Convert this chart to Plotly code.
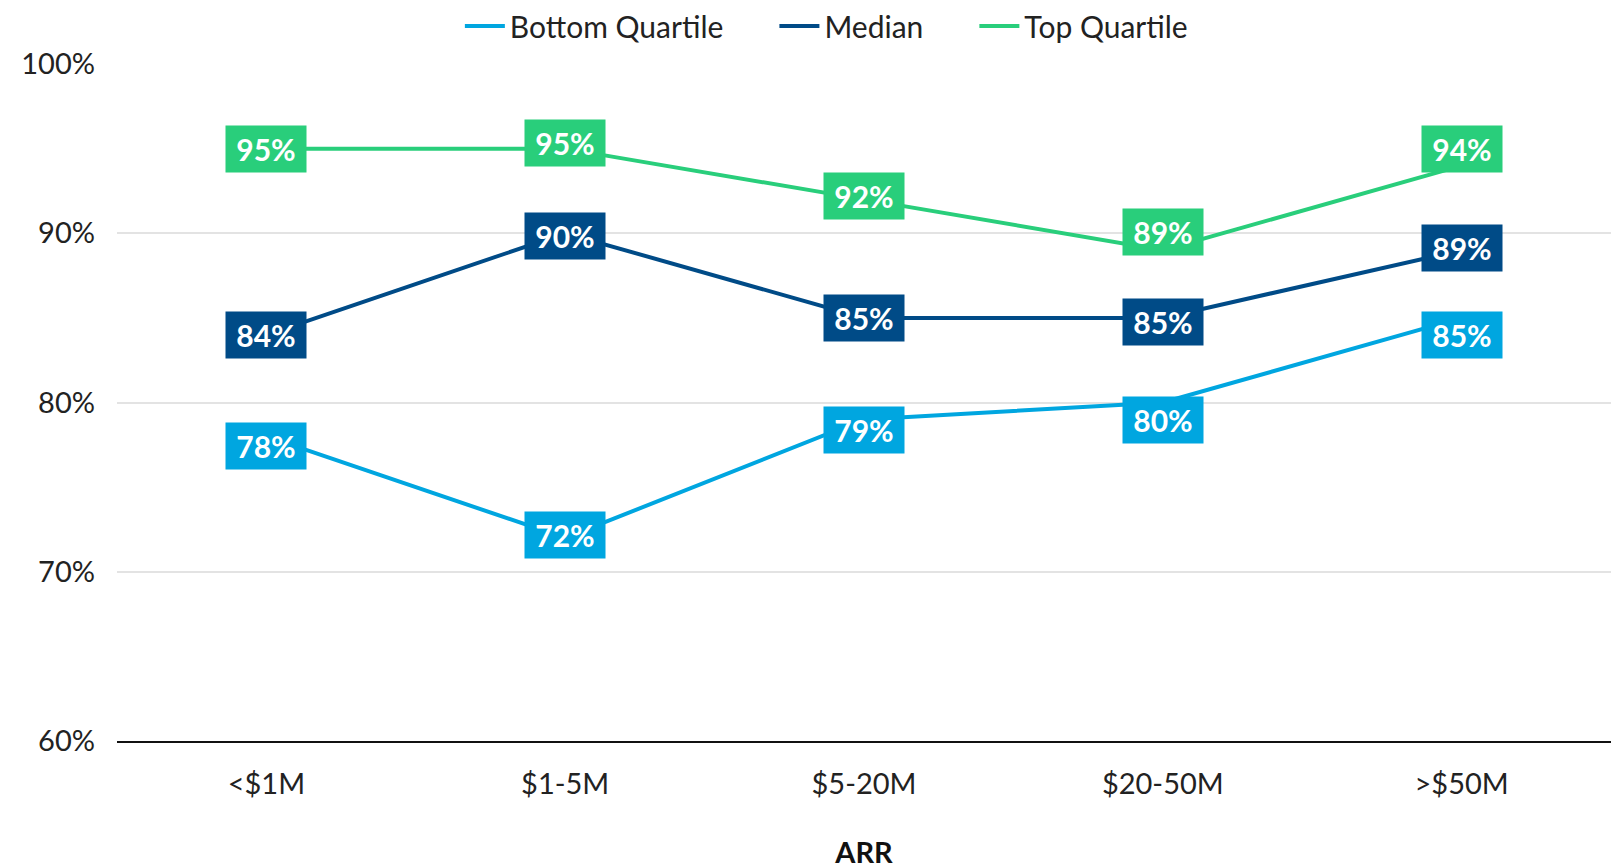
import plotly.graph_objects as go

categories = ["<$1M", "$1-5M", "$5-20M", "$20-50M", ">$50M"]
bottom_quartile = [78, 72, 79, 80, 85]
median = [84, 90, 85, 85, 89]
top_quartile = [95, 95, 92, 89, 94]
y_ticks = [60, 70, 80, 90, 100]
y_tick_labels = ["60%", "70%", "80%", "90%", "100%"]

# label box nudges (pixels, style only)
bottom_label_shift = [-10, 3, -11, -17, -17]
median_label_shift = [0, -3, 0, -4, 2]
top_label_shift = [0, 6, 3, 18, 17]

NB = "\u00a0"
series = [
    ("Bottom Quartile" + NB * 6, bottom_quartile, "#00A6E0", bottom_label_shift),
    ("Median" + NB * 6, median, "#004B87", median_label_shift),
    ("Top Quartile", top_quartile, "#29CE7B", top_label_shift),
]

FONT = "Lato, 'Noto Sans', sans-serif"
W, H = 1619, 867

fig = go.Figure()
annotations = []
for name, vals, color, shifts in series:
    fig.add_trace(go.Scatter(
        x=categories, y=vals, mode="lines", name=name,
        line=dict(color=color, width=4),
    ))
    for c, v, s in zip(categories, vals, shifts):
        annotations.append(dict(
            x=c, y=v, xref="x", yref="y", text=f"<b>{v}%</b>",
            showarrow=False, bgcolor=color, width=78, height=44, yshift=s,
            font=dict(family=FONT, size=30, color="white"),
        ))

fig.update_layout(
    width=W, height=H,
    margin=dict(l=109, r=16, t=56, b=134, autoexpand=False),
    paper_bgcolor="white", plot_bgcolor="white",
    font=dict(family=FONT, size=29, color="#222222"),
    annotations=annotations,
    showlegend=True,
    legend=dict(orientation="h", x=0.2295, xanchor="left", xref="paper",
                y=1 - 18 / H, yanchor="middle", yref="container",
                font=dict(size=30, color="#222222"), itemwidth=40, tracegroupgap=0),
    xaxis=dict(
        type="category", range=[-0.5, 4.5], showgrid=False, automargin=False,
        showline=True, linecolor="#111111", linewidth=2,
        ticks="", tickfont=dict(size=29), ticklabelstandoff=16,
        title=dict(text="<b>ARR</b>", font=dict(size=29, color="#111111"), standoff=44),
    ),
    yaxis=dict(
        range=[60, 100], tickvals=y_ticks, ticktext=y_tick_labels, automargin=False,
        showgrid=True, gridcolor="#E3E3E3", gridwidth=2, zeroline=False,
        showline=False, ticks="", tickfont=dict(size=29), ticklabelstandoff=21,
    ),
)

fig.write_html("out.html")
